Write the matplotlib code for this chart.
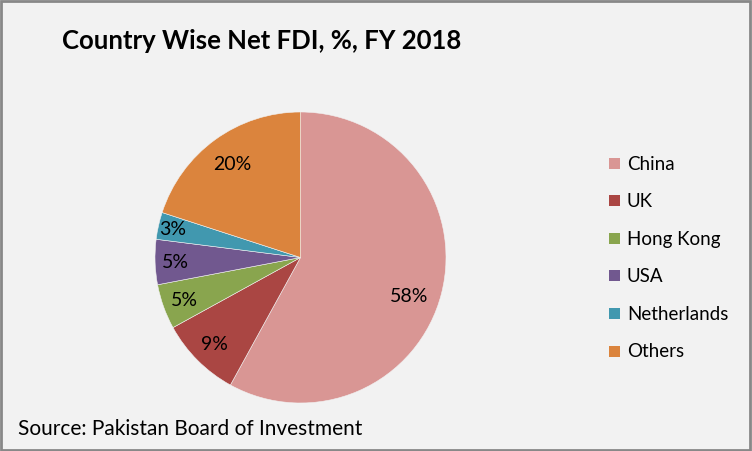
import numpy as np
import matplotlib
matplotlib.use("Agg")
import matplotlib.pyplot as plt
from matplotlib.patches import Rectangle

categories = ["China", "UK", "Hong Kong", "USA", "Netherlands", "Others"]
values = [58, 9, 5, 5, 3, 20]
colors = ["#D99694", "#AA4643", "#89A54E", "#71588F", "#4198AF", "#DB843D"]
title = "Country Wise Net FDI, %, FY 2018"
source = "Source: Pakistan Board of Investment"

plt.rcParams['font.family'] = ['Lato', 'DejaVu Sans']

W, H = 752, 452
fig = plt.figure(figsize=(W / 100, H / 100), dpi=100)
fig.patch.set_facecolor("#F2F2F2")

# border
fig.patches.append(Rectangle((1 / W, 1 / H), 1 - 3 / W, 1 - 3 / H, transform=fig.transFigure,
                             fill=False, edgecolor="#888888", linewidth=2))

cx, cy, r = 300.5, 258.5, 145.5
ax = fig.add_axes([(cx - r) / W, (H - cy - r) / H, 2 * r / W, 2 * r / H])

wedges, _ = ax.pie(values, colors=colors, startangle=90, counterclock=False, radius=1,
                   center=(0, 0), wedgeprops=dict(edgecolor="#F2F2F2", linewidth=0.4))
ax.set_xlim(-1, 1)
ax.set_ylim(-1, 1)
ax.set_aspect("equal")
ax.axis("off")

label_r = [0.79, 0.84, 0.85, 0.86, 0.90, 0.80]
label_off = [-5, 0, 0, 0, 0, 0]
for w, v, lr, off in zip(wedges, values, label_r, label_off):
    ang = np.deg2rad((w.theta1 + w.theta2) / 2 + off)
    ax.text(lr * np.cos(ang), lr * np.sin(ang), f"{v}%", ha="center", va="center",
            fontsize=14, color="black")

fig.text(261.5 / W, 1 - 41 / H, title, ha="center", va="center", fontsize=18.5,
         fontweight="bold", color="black")

fig.text(18 / W, 1 - 429 / H, source, ha="left", va="center", fontsize=15, color="black")

y0, dy = 164, 37.6
for i, (cat, col) in enumerate(zip(categories, colors)):
    y = y0 + i * dy
    fig.patches.append(Rectangle((609 / W, 1 - (y + 5.5) / H), 11 / W, 11 / H,
                                 transform=fig.transFigure, facecolor=col, edgecolor="none"))
    fig.text(627 / W, 1 - y / H, cat, ha="left", va="center", fontsize=13.5, color="black")

fig.savefig("out.png", dpi=100, facecolor=fig.get_facecolor())
